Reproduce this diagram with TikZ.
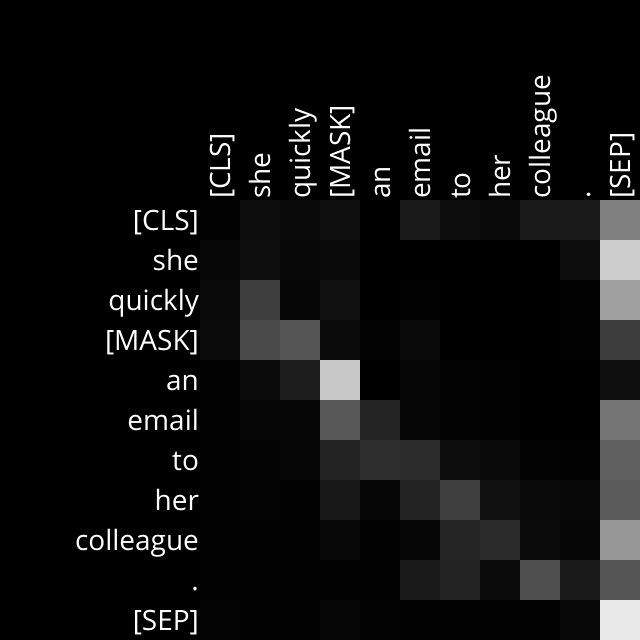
\documentclass[tikz,border=0pt]{standalone}
\usepackage{fontspec}
\setmainfont{Open Sans}
\usepackage{xcolor}
\usepackage{tikz}
\tikzset{
    cell/.style = {rectangle, draw=none, inner sep=0pt, outer sep=0pt, minimum size=1.01cm},
    toklabel/.style = {text=white, inner sep=0pt, text height=0.7cm, text depth=0.18cm, font=\fontsize{19.9}{23}\selectfont},
}

\begin{document}
\begin{tikzpicture}
\fill[black] (0,0) rectangle (16,16);
\useasboundingbox (0,0) rectangle (16,16);
%
\foreach \vals [count=\r from 0] in {
    {1,13,10,15,0,26,12,10,26,26,128},
    {7,14,8,10,0,0,0,0,0,13,205},
    {9,62,5,17,0,2,0,0,0,2,160},
    {11,75,86,11,3,9,0,0,0,1,60},
    {1,11,29,200,0,6,3,1,0,0,15},
    {1,5,6,88,36,5,3,1,0,0,117},
    {1,4,5,34,45,44,13,10,3,1,97},
    {2,4,2,24,5,35,63,17,10,8,91},
    {2,1,1,8,2,5,37,43,11,6,151},
    {1,1,1,1,1,26,34,11,79,26,85},
    {4,2,2,5,3,1,2,2,2,8,232}} {
  \foreach \v [count=\c from 0] in \vals {
    \node[cell, fill={rgb,255:red,\v;green,\v;blue,\v}] (c\r-\c) at (5.5+\c,10.5-\r) {};
  }
}
%
\foreach \t [count=\i from 0] in {{[CLS]},she,quickly,{[MASK]},an,email,to,her,colleague,.,{[SEP]}} {
  \node[toklabel, anchor=east] (row\i) at (4.98,10.5-\i) {\t};
  \node[toklabel, anchor=west, rotate=90] (col\i) at (5.5+\i,11.02) {\t};
}
\end{tikzpicture}
\end{document}
